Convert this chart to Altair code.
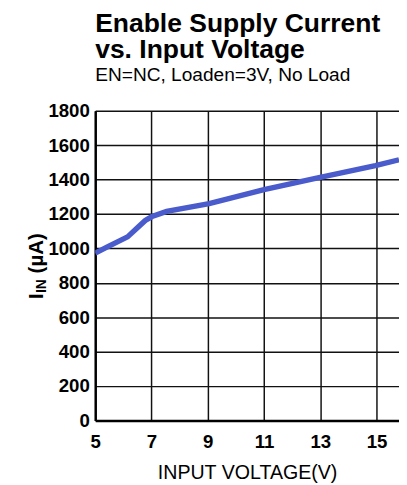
import altair as alt
import pandas as pd

# Data
volts = [5.0, 5.45, 6.15, 6.5, 6.78, 7.02, 7.54, 9.05, 11.0, 12.87, 14.96, 15.8]
current = [972, 1010, 1067, 1120, 1162, 1185, 1215, 1260, 1342, 1408, 1481, 1515]

x_ticks = [5, 7, 9, 11, 13, 15]
y_ticks = [0, 200, 400, 600, 800, 1000, 1200, 1400, 1600, 1800]

title_lines = ["Enable Supply Current", "vs. Input Voltage"]
subtitle = "EN=NC, Loaden=3V, No Load"
x_title = "INPUT VOLTAGE(V)"
y_title_main = "I"
y_title_sub = "IN"
y_title_rest = "(µA)"

FONT = "Liberation Sans"

df = pd.DataFrame({"v": volts, "i": current})

line = alt.Chart(df).mark_line(color="#4a5bcc", strokeWidth=5.5, clip=True).encode(
    x=alt.X("v:Q", scale=alt.Scale(domain=[5, 15.8], nice=False, zero=False),
            axis=alt.Axis(values=x_ticks, title=x_title, titleFontSize=20,
                          titleFontWeight="normal", titlePadding=11, labelPadding=13,
                          labelFlush=False, format="d")),
    y=alt.Y("i:Q", scale=alt.Scale(domain=[0, 1800], nice=False),
            axis=alt.Axis(values=y_ticks, title=None, labelPadding=6, format="d")),
)

def ttext(txt, size, x, y):
    return alt.Chart(pd.DataFrame({"t": [txt]})).mark_text(
        angle=270, align="left", baseline="alphabetic", font=FONT,
        fontWeight="bold", fontSize=size, color="black"
    ).encode(text="t:N", x=alt.value(x), y=alt.value(y))

t1 = ttext(y_title_main, 21, -53, 192)
t2 = ttext(y_title_sub, 14, -50, 186)
t3 = ttext(y_title_rest, 21, -53, 166)

chart = alt.layer(line, t1, t2, t3).properties(
    width=310,
    height=316,
    autosize=alt.AutoSizeParams(type="none"),
    padding={"left": 89, "top": 100, "right": 0, "bottom": 60},
    title=alt.Title(
        text=title_lines,
        subtitle=subtitle,
        anchor="start",
        frame="group",
        font=FONT,
        fontSize=27,
        fontWeight="bold",
        lineHeight=27,
        color="black",
        subtitleFont=FONT,
        subtitleFontSize=19.5,
        subtitleColor="black",
        subtitlePadding=2,
        offset=17,
    ),
).configure_view(stroke=None).configure_axis(
    domainColor="black",
    domainWidth=2.5,
    gridColor="#111111",
    gridWidth=1.5,
    gridOpacity=1,
    ticks=False,
    labelFont=FONT,
    labelFontWeight="bold",
    labelFontSize=19,
    labelColor="black",
    titleFont=FONT,
    titleColor="black",
)

chart.save("out.html", embed_options={"renderer": "svg", "actions": False})
